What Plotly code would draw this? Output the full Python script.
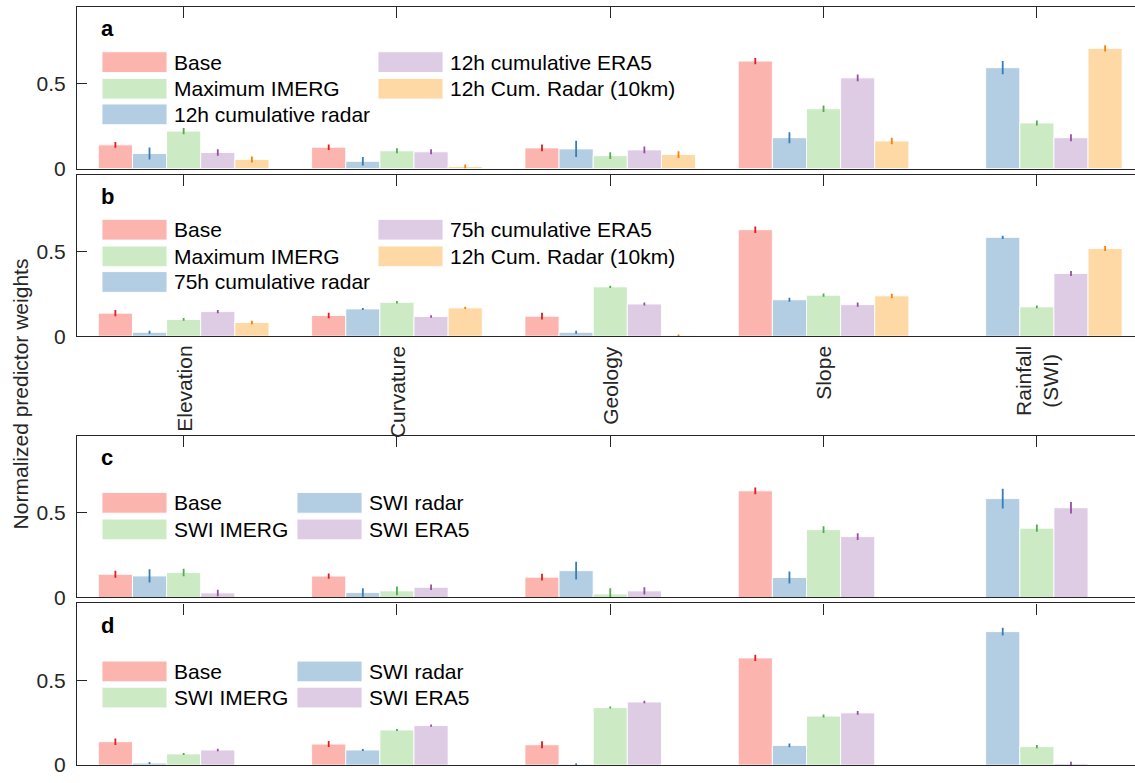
import plotly.graph_objects as go

# ---------------- data ----------------
categories = ["Elevation", "Curvature", "Geology", "Slope", "Rainfall<br>(SWI)"]
xpos = [1, 2, 3, 4, 5]

# Panel a
a_base = [0.140, 0.126, 0.122, 0.634, None]
a_base_err = [0.017, 0.016, 0.020, 0.018, None]
a_radar = [0.089, 0.043, 0.116, 0.182, 0.595]
a_radar_err = [0.035, 0.025, 0.048, 0.032, 0.039]
a_imerg = [0.221, 0.105, 0.076, 0.353, 0.269]
a_imerg_err = [0.019, 0.015, 0.020, 0.019, 0.015]
a_era5 = [0.095, 0.099, 0.110, 0.535, 0.182]
a_era5_err = [0.019, 0.015, 0.020, 0.020, 0.021]
a_radar10 = [0.054, 0.012, 0.083, 0.163, 0.709]
a_radar10_err = [0.018, 0.012, 0.020, 0.019, 0.019]

# Panel b
b_base = [0.136, 0.122, 0.118, 0.628, None]
b_base_err = [0.019, 0.016, 0.020, 0.019, None]
b_radar = [0.023, 0.161, 0.023, 0.215, 0.583]
b_radar_err = [0.009, 0.006, 0.009, 0.012, 0.010]
b_imerg = [0.099, 0.200, 0.291, 0.242, 0.173]
b_imerg_err = [0.008, 0.007, 0.007, 0.010, 0.008]
b_era5 = [0.145, 0.116, 0.190, 0.186, 0.370]
b_era5_err = [0.010, 0.007, 0.009, 0.013, 0.015]
b_radar10 = [0.081, 0.167, 0.005, 0.238, 0.517]
b_radar10_err = [0.010, 0.007, 0.005, 0.012, 0.015]

# Panel c
c_base = [0.137, 0.126, 0.120, 0.629, None]
c_base_err = [0.020, 0.015, 0.020, 0.020, None]
c_radar = [0.127, 0.029, 0.158, 0.118, 0.583]
c_radar_err = [0.039, 0.025, 0.052, 0.035, 0.058]
c_imerg = [0.147, 0.039, 0.021, 0.400, 0.409]
c_imerg_err = [0.022, 0.026, 0.033, 0.020, 0.022]
c_era5 = [0.027, 0.060, 0.039, 0.359, 0.529]
c_era5_err = [0.019, 0.016, 0.022, 0.020, 0.034]

# Panel d
d_base = [0.138, 0.124, 0.120, 0.632, None]
d_base_err = [0.019, 0.018, 0.021, 0.018, None]
d_radar = [0.012, 0.089, 0.005, 0.116, 0.787]
d_radar_err = [0.006, 0.006, 0.005, 0.011, 0.023]
d_imerg = [0.066, 0.207, 0.339, 0.289, 0.109]
d_imerg_err = [0.006, 0.006, 0.006, 0.009, 0.009]
d_era5 = [0.089, 0.233, 0.372, 0.308, 0.010]
d_era5_err = [0.007, 0.007, 0.007, 0.011, 0.010]

legend_a = [["Base", "Maximum IMERG", "12h cumulative radar"],
            ["12h cumulative ERA5", "12h Cum. Radar (10km)"]]
legend_b = [["Base", "Maximum IMERG", "75h cumulative radar"],
            ["75h cumulative ERA5", "12h Cum. Radar (10km)"]]
legend_cd = [["Base", "SWI IMERG"], ["SWI radar", "SWI ERA5"]]

# ---------------- style ----------------
W, H = 1135, 783
FILL = {"base": "#FBB4AE", "radar": "#B3CDE3", "imerg": "#CCEBC5",
        "era5": "#DECBE4", "radar10": "#FED9A6"}
ERR = {"base": "#E41A1C", "radar": "#377EB8", "imerg": "#4DAF4A",
       "era5": "#984EA3", "radar10": "#FF7F00"}
SLOT = {"base": 0, "radar": 1, "imerg": 2, "era5": 3, "radar10": 4}
BW = 0.16
FONT = "Liberation Sans, Arial, sans-serif"
AXC = "#262626"

# panel pixel boxes (top, bottom)
panels = [(7, 171), (177, 341), (442, 606), (612, 776)]
x_left_px = 77
px_per_unit = 213.3
x_range = [0.5, 0.5 + (W - x_left_px) / px_per_unit]
y_max = 164 / 172.0


def py(p):
    return 1 - p / H


def px(p):
    return p / W


panel_data = [
    {"base": (a_base, a_base_err), "radar": (a_radar, a_radar_err),
     "imerg": (a_imerg, a_imerg_err), "era5": (a_era5, a_era5_err),
     "radar10": (a_radar10, a_radar10_err)},
    {"base": (b_base, b_base_err), "radar": (b_radar, b_radar_err),
     "imerg": (b_imerg, b_imerg_err), "era5": (b_era5, b_era5_err),
     "radar10": (b_radar10, b_radar10_err)},
    {"base": (c_base, c_base_err), "radar": (c_radar, c_radar_err),
     "imerg": (c_imerg, c_imerg_err), "era5": (c_era5, c_era5_err)},
    {"base": (d_base, d_base_err), "radar": (d_radar, d_radar_err),
     "imerg": (d_imerg, d_imerg_err), "era5": (d_era5, d_era5_err)},
]

fig = go.Figure()
layout = {}
annotations = []
shapes = []

for i, (top, bot) in enumerate(panels):
    n = i + 1
    xa = "x" if n == 1 else f"x{n}"
    ya = "y" if n == 1 else f"y{n}"
    for key, (vals, errs) in panel_data[i].items():
        fig.add_trace(go.Bar(
            x=xpos, y=vals, xaxis=xa, yaxis=ya,
            width=BW, offset=-0.4 + SLOT[key] * BW,
            marker=dict(color=FILL[key], line=dict(color="rgba(255,255,255,0.9)", width=1)),
            error_y=dict(type="data", array=errs, visible=True, color=ERR[key],
                         thickness=1.8, width=0),
            showlegend=False, hoverinfo="skip",
        ))
    layout[f"xaxis{'' if n == 1 else n}"] = dict(
        domain=[px(x_left_px), 1], range=x_range, anchor=ya, side="top",
        showline=True, linecolor=AXC, linewidth=1.2, mirror=True,
        ticks="inside", ticklen=11, tickcolor=AXC, tickwidth=1.2,
        tickvals=xpos, showticklabels=False, showgrid=False, zeroline=False,
        fixedrange=True)
    layout[f"yaxis{'' if n == 1 else n}"] = dict(
        domain=[py(bot), py(top)], range=[0, y_max], anchor=xa,
        showline=True, linecolor=AXC, linewidth=1.2,
        ticks="inside", ticklen=10, tickcolor=AXC, tickwidth=1.2,
        tickvals=[0, 0.5], ticktext=["0", "0.5"], ticklabelstandoff=6,
        tickfont=dict(family=FONT, size=21, color=AXC),
        showgrid=False, zeroline=False, fixedrange=True)
    # panel letter
    annotations.append(dict(
        text=f"<b>{'abcd'[i]}</b>", xref="paper", yref="paper",
        x=px(99), y=py(top + 22), xanchor="left", yanchor="middle",
        showarrow=False, font=dict(family=FONT, size=22, color="#000000")))

# legends (drawn swatches + text)
def add_legend(top, cols, row_offsets, col_x, keys):
    for c, labels in enumerate(cols):
        for r, lab in enumerate(labels):
            cy = top + row_offsets[r]
            x0 = col_x[c]
            key = keys[c][r]
            shapes.append(dict(type="rect", xref="paper", yref="paper",
                               x0=px(x0), x1=px(x0 + 65), y0=py(cy + 10.5), y1=py(cy - 10.5),
                               fillcolor=FILL[key], line=dict(color="rgba(255,255,255,0.9)", width=1),
                               layer="above"))
            annotations.append(dict(
                text=lab, xref="paper", yref="paper", x=px(x0 + 70), y=py(cy),
                xanchor="left", yanchor="middle", showarrow=False,
                font=dict(family=FONT, size=21, color="#000000")))

keys_ab = [["base", "imerg", "radar"], ["era5", "radar10"]]
keys_cd = [["base", "imerg"], ["radar", "era5"]]
add_legend(panels[0][0], legend_a, [56, 83, 109], [102, 378], keys_ab)
add_legend(panels[1][0], legend_b, [56, 83, 109], [102, 378], keys_ab)
add_legend(panels[2][0], legend_cd, [68, 95], [102, 297], keys_cd)
add_legend(panels[3][0], legend_cd, [69, 95.5], [102, 297], keys_cd)

# category labels under panel b
for xv, lab in zip(xpos, categories):
    annotations.append(dict(
        text=lab, xref="x2", yref="paper", x=xv, y=py(349),
        xanchor="center", yanchor="top", textangle=-90, showarrow=False,
        font=dict(family=FONT, size=21, color=AXC)))

# y-axis title
annotations.append(dict(
    text="Normalized predictor weights", xref="paper", yref="paper",
    x=px(20), y=py(400), xanchor="center", yanchor="middle", textangle=-90,
    showarrow=False, font=dict(family=FONT, size=21, color=AXC)))

fig.update_layout(
    width=W, height=H, margin=dict(l=0, r=0, t=0, b=0),
    paper_bgcolor="white", plot_bgcolor="white",
    barmode="overlay", showlegend=False,
    annotations=annotations, shapes=shapes,
    font=dict(family=FONT, size=21, color=AXC),
    **layout)

fig.write_html("out.html", config={"displayModeBar": False},
               post_script="document.body.style.margin='0';document.body.style.padding='0';")
